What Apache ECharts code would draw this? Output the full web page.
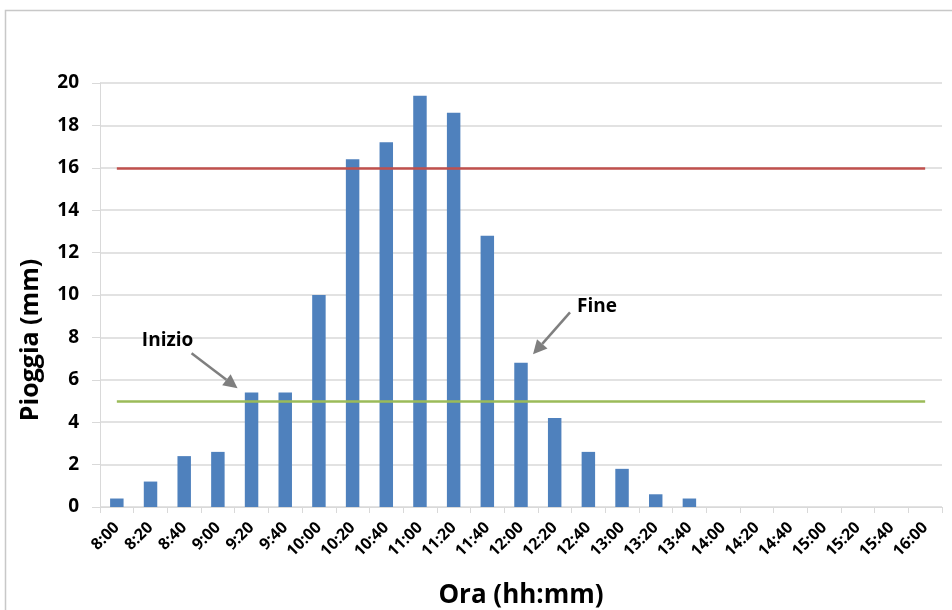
<!DOCTYPE html>
<html><head><meta charset="utf-8">
<script src="https://cdn.jsdelivr.net/npm/echarts@6/dist/echarts.min.js"></script>
<style>html,body{margin:0;padding:0;background:#fff}#c{width:952px;height:610px}</style>
</head><body><div id="c"></div>
<script>
const categories = ['8:00','8:20','8:40','9:00','9:20','9:40','10:00','10:20','10:40','11:00','11:20','11:40','12:00','12:20','12:40','13:00','13:20','13:40','14:00','14:20','14:40','15:00','15:20','15:40','16:00'];
const rain = [0.4,1.2,2.4,2.6,5.4,5.4,10,16.4,17.2,19.4,18.6,12.8,6.8,4.2,2.6,1.8,0.6,0.4,0,0,0,0,0,0,0];
const thresholdHigh = 16;
const thresholdLow = 5;
const yTicks = {min:0, max:20, interval:2};
const annotations = [
  {text:'Inizio', cat:'9:20', value:5.6, tipDx:-14, tailDx:-46, tailDy:-35, textDx:-70, textDy:-48},
  {text:'Fine', cat:'12:00', value:7.2, tipDx:12, tailDx:37, tailDy:-42, textDx:64, textDy:-48}
];
const FONT = '"Open Sans", sans-serif';
const chart = echarts.init(document.getElementById('c'));
const lastIdx = categories.length - 1;
chart.setOption({
  animation:false,
  backgroundColor:'#fff',
  grid:{left:100, right:10, top:83, bottom:103, containLabel:false, outerBoundsMode:'none'},
  xAxis:{
    type:'category', data:categories,
    name:'Ora (hh:mm)', nameLocation:'middle', nameGap:76,
    nameTextStyle:{fontFamily:FONT, fontWeight:'bold', fontSize:26, color:'#000'},
    axisLine:{lineStyle:{color:'#d9d9d9'}},
    axisTick:{show:true, length:6, lineStyle:{color:'#d9d9d9'}},
    axisLabel:{rotate:45, interval:0, fontFamily:FONT, fontWeight:'bold', fontSize:16, color:'#000', margin:18}
  },
  yAxis:{
    type:'value', min:yTicks.min, max:yTicks.max, interval:yTicks.interval,
    name:'Pioggia (mm)', nameLocation:'middle', nameGap:57,
    nameTextStyle:{fontFamily:FONT, fontWeight:'bold', fontSize:25, color:'#000', padding:[0,90,0,0]},
    axisLine:{show:true, lineStyle:{color:'#d9d9d9'}},
    axisTick:{show:true, length:8, lineStyle:{color:'#d9d9d9'}},
    axisLabel:{fontFamily:FONT, fontWeight:'bold', fontSize:19, color:'#000', margin:21},
    splitLine:{lineStyle:{color:'#d9d9d9', width:1.5}}
  },
  series:[{
    type:'bar', data:rain, barWidth:'40%',
    itemStyle:{color:'#4f81bd'},
    markLine:{
      silent:true, symbol:['none','none'], label:{show:false},
      data:[
        [{coord:[0,thresholdHigh], lineStyle:{color:'#c0504d', width:2.5, type:'solid'}},{coord:[lastIdx,thresholdHigh]}],
        [{coord:[0,thresholdLow], lineStyle:{color:'#9bbb59', width:2.5, type:'solid'}},{coord:[lastIdx,thresholdLow]}]
      ]
    }
  }]
});
const g = [{type:'rect', shape:{x:5.5,y:10.5,width:960,height:620}, style:{fill:'none', stroke:'#c8c8c8', lineWidth:1.5}, z:-1}];
annotations.forEach(a=>{
  const p = chart.convertToPixel({seriesIndex:0}, [categories.indexOf(a.cat), a.value]);
  const tx = p[0]+a.tipDx, ty = p[1];
  const sx = tx + a.tailDx, sy = ty + a.tailDy;
  const ang = Math.atan2(ty-sy, tx-sx);
  const L = 14, W = 7;
  const bx = tx - L*Math.cos(ang), by = ty - L*Math.sin(ang);
  const nx = -Math.sin(ang)*W, ny = Math.cos(ang)*W;
  g.push({type:'line', shape:{x1:sx,y1:sy,x2:bx,y2:by}, style:{stroke:'#7f7f7f', lineWidth:2.5}});
  g.push({type:'polygon', shape:{points:[[tx,ty],[bx+nx,by+ny],[bx-nx,by-ny]]}, style:{fill:'#7f7f7f'}});
  g.push({type:'text', x:tx+a.textDx, y:ty+a.textDy, style:{text:a.text, fontFamily:FONT, fontWeight:'bold', fontSize:19, fill:'#000', textAlign:'center', textVerticalAlign:'middle'}});
});
chart.setOption({graphic:g});
</script></body></html>
